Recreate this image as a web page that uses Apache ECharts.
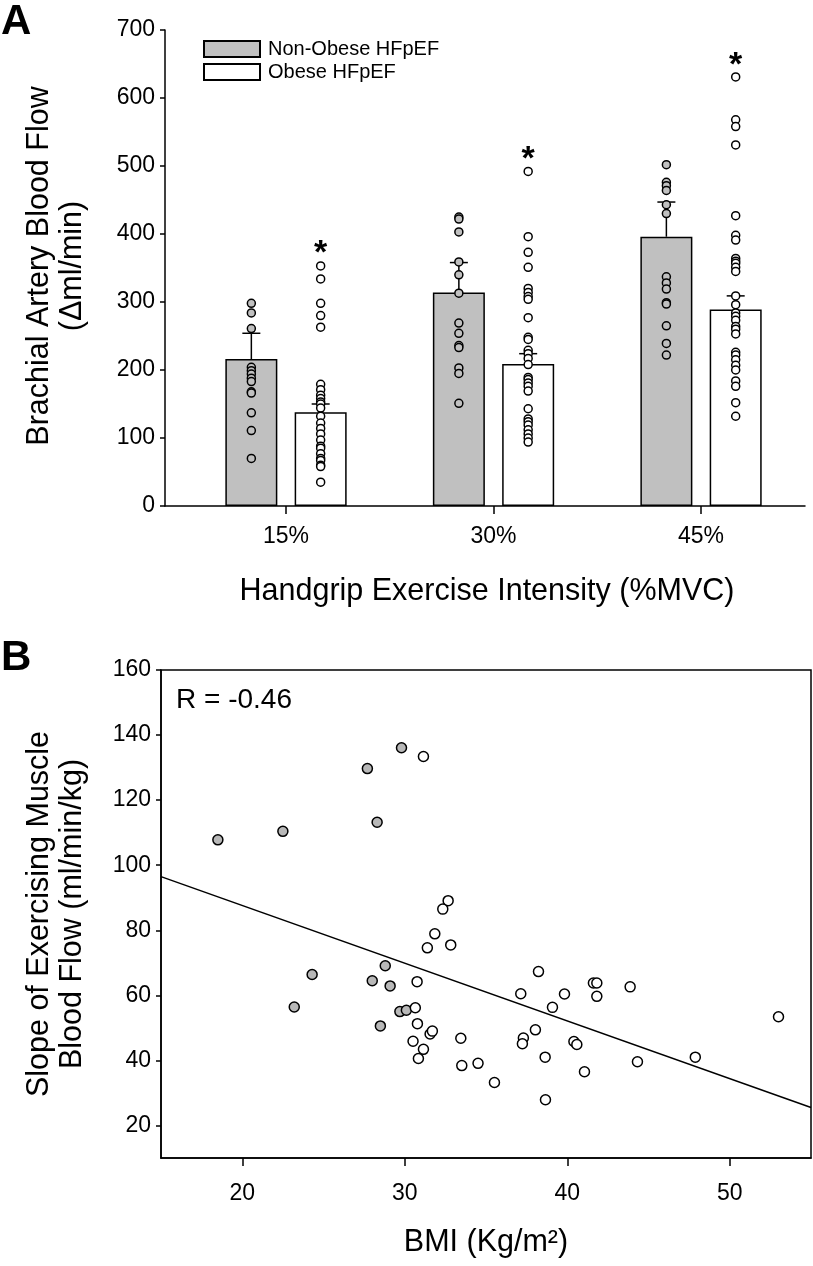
<!DOCTYPE html>
<html>
<head>
<meta charset="utf-8">
<script src="https://cdn.jsdelivr.net/npm/echarts@6/dist/echarts.min.js"></script>
<style>
html,body{margin:0;padding:0;background:#fff;}
#c{width:813px;height:1266px;}
</style>
</head>
<body>
<div id="c"></div>
<script>
// ---------- Panel A data ----------
const categories = ['15%', '30%', '45%'];
const nonObeseMean = [216, 314, 396];
const nonObeseSE = [38, 44, 51];
const obeseMean = [138, 209, 289];
const obeseSE = [12, 15, 20];
const nonObese15 = [298, 284, 261, 204, 199, 194, 188, 183, 168, 166, 137, 111, 70];
const obese15 = [353, 334, 298, 280, 263, 179, 171, 163, 158, 153, 150, 144, 132, 122, 114, 106, 97, 88, 85, 77, 70, 67, 60, 58, 35];
const nonObese30 = [425, 422, 403, 359, 340, 313, 269, 254, 236, 233, 203, 195, 151];
const obese30 = [492, 396, 373, 351, 320, 314, 308, 304, 277, 248, 245, 229, 224, 217, 208, 189, 186, 181, 176, 169, 143, 128, 124, 119, 112, 106, 100, 94];
const nonObese45 = [502, 476, 471, 464, 443, 430, 337, 328, 319, 299, 297, 265, 239, 222];
const obese45 = [631, 568, 558, 531, 427, 398, 391, 364, 360, 357, 351, 345, 309, 296, 284, 279, 273, 264, 260, 253, 226, 222, 215, 207, 200, 184, 176, 152, 132];
const starValues = [384, 523, 661];
const yTicksA = [0, 100, 200, 300, 400, 500, 600, 700];

// ---------- Panel B data ----------
const nonObeseBMI = [18.5, 22.5, 27.7, 29.8, 28.3, 28.8, 28.0, 29.1, 29.7, 30.1, 28.5, 24.3, 23.2];
const nonObeseSlope = [107.8, 110.4, 129.7, 136.1, 113.2, 69.1, 64.5, 62.9, 55.0, 55.4, 50.6, 66.4, 56.4];
const obeseBMI = [31.15, 32.67, 32.34, 31.85, 31.39, 32.83, 30.76, 30.65, 30.78, 31.56, 31.70, 30.51, 31.15, 30.84, 33.45, 33.51, 34.51, 35.52, 38.23, 37.14, 39.83, 39.09, 41.61, 41.82, 41.82, 43.87, 38.04, 37.3, 37.24, 38.64, 40.41, 40.59, 41.06, 38.66, 53.0, 47.88, 44.32];
const obeseSlope = [133.4, 89.1, 86.5, 78.9, 74.6, 75.5, 64.2, 56.2, 51.3, 48.1, 49.0, 45.9, 43.4, 40.6, 46.8, 38.4, 39.1, 33.2, 67.3, 60.5, 60.4, 56.3, 63.8, 63.8, 59.7, 62.6, 49.4, 46.9, 45.1, 41.0, 45.8, 44.9, 36.5, 27.9, 53.4, 41.0, 39.6];
const fitBMI = [15, 55];
const fitSlope = [96.5, 25.5];
const xTicksB = [20, 30, 40, 50];
const yTicksB = [20, 40, 60, 80, 100, 120, 140, 160];

// ---------- layout constants ----------
const FONT = "'Liberation Sans', Arial, Helvetica, sans-serif";
const OFF = 0.167;           // half-distance between paired bars (in category units)
const GRAY = '#c0c0c0';
const TITLE_SIZE = 30.5;
const dotsA = [[nonObese15, obese15], [nonObese30, obese30], [nonObese45, obese45]];

const nonObeseDots = [], obeseDots = [];
dotsA.forEach((pair, i) => {
  pair[0].forEach(v => nonObeseDots.push([i + 1 - OFF, v]));
  pair[1].forEach(v => obeseDots.push([i + 1 + OFF, v]));
});
const errData = [];
categories.forEach((c, i) => {
  errData.push([i + 1 - OFF, nonObeseMean[i], nonObeseMean[i] + nonObeseSE[i]]);
  errData.push([i + 1 + OFF, obeseMean[i], obeseMean[i] + obeseSE[i]]);
});

const chart = echarts.init(document.getElementById('c'), null, {renderer: 'canvas'});
const axisTxt = {color: '#000', fontFamily: FONT, fontSize: 23};

const option = {
  backgroundColor: '#fff',
  animation: false,
  textStyle: {fontFamily: FONT, color: '#000'},
  grid: [
    {left: 165, top: 30, right: 8, bottom: 760, containLabel: false},
    {left: 161, top: 670, right: 2, bottom: 108, containLabel: false,
     show: true, borderColor: '#000', borderWidth: 1.5, backgroundColor: 'transparent'}
  ],
  legend: {
    data: ['Non-Obese HFpEF', 'Obese HFpEF'],
    orient: 'vertical', left: 203, top: 39, padding: 0,
    itemWidth: 56, itemHeight: 16, itemGap: 3,
    icon: 'rect',
    textStyle: {fontFamily: FONT, fontSize: 20, color: '#000', padding: [0, 0, 0, 3]},
    selectedMode: false
  },
  xAxis: [
    {
      type: 'value', gridIndex: 0, min: 0.4169, max: 3.501,
      splitLine: {show: false},
      axisLine: {show: true, onZero: false, lineStyle: {color: '#000', width: 1.5}},
      axisTick: {show: true, length: 8, customValues: [1, 2, 3], lineStyle: {color: '#000', width: 1.5}},
      axisLabel: Object.assign({customValues: [1, 2, 3], margin: 19,
        formatter: v => categories[Math.round(v) - 1] || ''}, axisTxt)
    },
    {
      type: 'value', gridIndex: 1, min: 15, max: 55,
      splitLine: {show: false},
      axisLine: {show: true, onZero: false, lineStyle: {color: '#000', width: 1.5}},
      axisTick: {show: true, length: 8, customValues: xTicksB, lineStyle: {color: '#000', width: 1.5}},
      axisLabel: Object.assign({customValues: xTicksB, margin: 24}, axisTxt)
    }
  ],
  yAxis: [
    {
      type: 'value', gridIndex: 0, min: 0, max: 700, interval: 100,
      splitLine: {show: false},
      axisLine: {show: true, onZero: false, lineStyle: {color: '#000', width: 1.5}},
      axisTick: {show: true, length: 5, lineStyle: {color: '#000', width: 1.5}},
      axisLabel: Object.assign({margin: 10}, axisTxt)
    },
    {
      type: 'value', gridIndex: 1, min: 10, max: 160,
      splitLine: {show: false},
      axisLine: {show: true, onZero: false, lineStyle: {color: '#000', width: 1.5}},
      axisTick: {show: true, length: 5, customValues: yTicksB, lineStyle: {color: '#000', width: 1.5}},
      axisLabel: Object.assign({customValues: yTicksB, margin: 10}, axisTxt)
    }
  ],
  series: [
    {
      name: 'Non-Obese HFpEF', type: 'bar', xAxisIndex: 0, yAxisIndex: 0,
      barWidth: 52, barGap: '-100%', z: 2,
      itemStyle: {color: GRAY, borderColor: '#000', borderWidth: 1.5},
      data: nonObeseMean.map((v, i) => [i + 1 - OFF, v])
    },
    {
      name: 'Obese HFpEF', type: 'bar', xAxisIndex: 0, yAxisIndex: 0,
      barWidth: 52, barGap: '-100%', z: 2,
      itemStyle: {color: '#fff', borderColor: '#000', borderWidth: 1.5},
      data: obeseMean.map((v, i) => [i + 1 + OFF, v])
    },
    {
      name: 'errA', type: 'custom', xAxisIndex: 0, yAxisIndex: 0, z: 3,
      encode: {x: 0, y: [1, 2]},
      data: errData,
      renderItem: function (params, api) {
        const b = api.coord([api.value(0), api.value(1)]);
        const t = api.coord([api.value(0), api.value(2)]);
        const hw = 9;
        const st = {stroke: '#000', lineWidth: 1.5};
        return {type: 'group', children: [
          {type: 'line', shape: {x1: b[0], y1: b[1], x2: t[0], y2: t[1]}, style: st},
          {type: 'line', shape: {x1: t[0] - hw, y1: t[1], x2: t[0] + hw, y2: t[1]}, style: st}
        ]};
      }
    },
    {
      name: 'dotsNonObeseA', type: 'scatter', xAxisIndex: 0, yAxisIndex: 0, z: 4,
      symbol: 'circle', symbolSize: 8,
      itemStyle: {color: GRAY, borderColor: '#000', borderWidth: 1.5, opacity: 1},
      data: nonObeseDots
    },
    {
      name: 'dotsObeseA', type: 'scatter', xAxisIndex: 0, yAxisIndex: 0, z: 4,
      symbol: 'circle', symbolSize: 8,
      itemStyle: {color: '#fff', borderColor: '#000', borderWidth: 1.5, opacity: 1},
      data: obeseDots
    },
    {
      name: 'stars', type: 'custom', xAxisIndex: 0, yAxisIndex: 0, z: 5,
      data: starValues.map((v, i) => [i + 1 + OFF, v]),
      renderItem: function (params, api) {
        const p = api.coord([api.value(0), api.value(1)]);
        return {type: 'text', x: p[0], y: p[1] + 9,
          style: {text: '*', textAlign: 'center', textVerticalAlign: 'middle',
                  fontSize: 34, fontWeight: 'bold', fontFamily: FONT, fill: '#000'}};
      }
    },
    // ---------- Panel B ----------
    {
      name: 'fit', type: 'line', xAxisIndex: 1, yAxisIndex: 1, z: 2,
      symbol: 'none', lineStyle: {color: '#000', width: 1.5},
      data: fitBMI.map((x, i) => [x, fitSlope[i]])
    },
    {
      name: 'nonObeseB', type: 'scatter', xAxisIndex: 1, yAxisIndex: 1, z: 4,
      symbol: 'circle', symbolSize: 10,
      itemStyle: {color: '#b8b8b8', borderColor: '#000', borderWidth: 1.5, opacity: 1},
      data: nonObeseBMI.map((x, i) => [x, nonObeseSlope[i]])
    },
    {
      name: 'obeseB', type: 'scatter', xAxisIndex: 1, yAxisIndex: 1, z: 4,
      symbol: 'circle', symbolSize: 10,
      itemStyle: {color: '#fff', borderColor: '#000', borderWidth: 1.5, opacity: 1},
      data: obeseBMI.map((x, i) => [x, obeseSlope[i]])
    }
  ],
  graphic: [
    {type: 'text', left: 1, top: 1, style: {text: 'A', fontSize: 42, fontWeight: 'bold', fontFamily: FONT, fill: '#000'}},
    {type: 'text', left: 1, top: 637, style: {text: 'B', fontSize: 42, fontWeight: 'bold', fontFamily: FONT, fill: '#000'}},
    {type: 'text', x: 56, y: 266, rotation: Math.PI / 2,
     style: {text: 'Brachial Artery Blood Flow\n(\u0394ml/min)', textAlign: 'center', textVerticalAlign: 'middle',
             fontSize: TITLE_SIZE, lineHeight: 33, fontFamily: FONT, fill: '#000'}},
    {type: 'text', x: 487, y: 592,
     style: {text: 'Handgrip Exercise Intensity (%MVC)', textAlign: 'center', textVerticalAlign: 'middle',
             fontSize: TITLE_SIZE, fontFamily: FONT, fill: '#000'}},
    {type: 'text', x: 56, y: 914, rotation: Math.PI / 2,
     style: {text: 'Slope of Exercising Muscle\nBlood Flow (ml/min/kg)', textAlign: 'center', textVerticalAlign: 'middle',
             fontSize: TITLE_SIZE, lineHeight: 33, fontFamily: FONT, fill: '#000'}},
    {type: 'text', x: 486, y: 1243,
     style: {text: 'BMI (Kg/m\u00B2)', textAlign: 'center', textVerticalAlign: 'middle',
             fontSize: TITLE_SIZE, fontFamily: FONT, fill: '#000'}},
    {type: 'text', x: 176, y: 700,
     style: {text: 'R = -0.46', textAlign: 'left', textVerticalAlign: 'middle',
             fontSize: 28, fontFamily: FONT, fill: '#000'}}
  ]
};
chart.setOption(option);
</script>
</body>
</html>
